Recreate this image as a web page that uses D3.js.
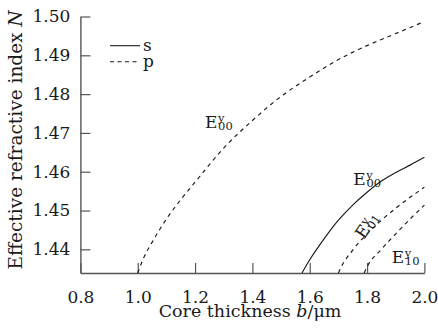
<!DOCTYPE html>
<html><head><meta charset="utf-8">
<script src="https://cdn.jsdelivr.net/npm/d3@7"></script>
<style>
html,body{margin:0;padding:0;background:#fff;}
svg{display:block;}
text{font-family:"DejaVu Serif",serif;fill:#1a1a1a;}
</style></head>
<body>
<script>
// ---- data ----
const xTicks = [0.8, 1.0, 1.2, 1.4, 1.6, 1.8, 2.0];
const yTicks = [1.44, 1.45, 1.46, 1.47, 1.48, 1.49, 1.50];

const pE00_x = [1.00, 1.02, 1.05, 1.10, 1.15, 1.20, 1.30, 1.40, 1.50, 1.60, 1.70, 1.80, 1.90, 2.00];
const pE00_y = [1.4339, 1.4377, 1.4418, 1.4478, 1.4528, 1.4573, 1.4661, 1.4732, 1.4794, 1.4844, 1.4889, 1.4925, 1.4956, 1.4987];

const sE00_x = [1.573, 1.60, 1.65, 1.70, 1.75, 1.80, 1.85, 1.90, 1.95, 2.00];
const sE00_y = [1.4339, 1.4373, 1.4427, 1.4475, 1.4514, 1.4547, 1.4576, 1.4598, 1.4617, 1.4637];

const pE01_x = [1.70, 1.71, 1.75, 1.80, 1.85, 1.90, 1.95, 2.00];
const pE01_y = [1.4339, 1.4355, 1.4398, 1.4440, 1.4475, 1.4506, 1.4534, 1.4560];

const pE10_x = [1.79, 1.80, 1.85, 1.90, 1.95, 2.00];
const pE10_y = [1.4339, 1.4355, 1.4400, 1.4440, 1.4478, 1.4514];

const legendLabels = ["s", "p"];
const modeLabels = [
  {sup: "y", sub: "00", x: 1.2346, y: 1.4713, rot: 0},
  {sup: "y", sub: "00", x: 1.752, y: 1.4566, rot: 0},
  {sup: "y", sub: "01", x: 1.789, y: 1.4424, rot: -56},
  {sup: "y", sub: "10", x: 1.886, y: 1.4364, rot: 0}
];

// ---- chart ----
const W = 438, H = 332;
const svg = d3.select("body").append("svg").attr("width", W).attr("height", H);

const x = d3.scaleLinear().domain([0.8, 2.0]).range([80.4, 424.4]);
const y = d3.scaleLinear().domain([1.4339, 1.50]).range([273, 16.5]);

const axisColor = "#555";
const FS = 17;

// x axis
const gx = svg.append("g").attr("transform", `translate(0,${y(1.4339)})`)
  .call(d3.axisBottom(x).tickValues(xTicks).tickFormat(d3.format(".1f")).tickSizeInner(-10).tickSizeOuter(0).tickPadding(18));
gx.select(".domain").attr("stroke", axisColor).attr("stroke-width", 1.4);
gx.selectAll(".tick line").attr("stroke", axisColor).attr("stroke-width", 1.2);
gx.selectAll(".tick text").attr("font-size", FS).attr("font-family", "DejaVu Serif").attr("fill", "#1a1a1a");

// y axis
const gy = svg.append("g").attr("transform", `translate(${x(0.8)},0)`)
  .call(d3.axisLeft(y).tickValues(yTicks).tickFormat(d3.format(".2f")).tickSizeInner(-10).tickSizeOuter(0).tickPadding(10));
gy.select(".domain").attr("stroke", axisColor).attr("stroke-width", 1.4);
gy.selectAll(".tick line").attr("stroke", axisColor).attr("stroke-width", 1.2);
gy.selectAll(".tick text").attr("font-size", FS).attr("font-family", "DejaVu Serif").attr("fill", "#1a1a1a");

// curves
const line = d3.line().x(d => x(d[0])).y(d => y(d[1])).curve(d3.curveMonotoneX);
const series = [
  {xs: pE00_x, ys: pE00_y, dash: "4,4"},
  {xs: sE00_x, ys: sE00_y, dash: null},
  {xs: pE01_x, ys: pE01_y, dash: "4,4"},
  {xs: pE10_x, ys: pE10_y, dash: "4,4"}
];
series.forEach(s => {
  svg.append("path").datum(d3.zip(s.xs, s.ys))
    .attr("d", line).attr("fill", "none").attr("stroke", "#1a1a1a")
    .attr("stroke-width", 1.15).attr("stroke-dasharray", s.dash);
});

// mode labels (single text element each: E with stacked super/subscript)
modeLabels.forEach(m => {
  const t = svg.append("text")
    .attr("transform", `translate(${x(m.x)},${y(m.y)}) rotate(${m.rot})`)
    .attr("font-size", FS);
  t.append("tspan").text("E");
  t.append("tspan").attr("font-size", 11.5).attr("dx", 0.5).attr("dy", -6).text(m.sup);
  t.append("tspan").attr("font-size", 11.5).attr("dx", -6.3).attr("dy", 8).text(m.sub);
});

// legend
const leg = svg.append("g");
legendLabels.forEach((lab, i) => {
  const ly = 45.7 + i * 16;
  leg.append("line").attr("x1", 110).attr("x2", 140).attr("y1", ly).attr("y2", ly)
    .attr("stroke", "#1a1a1a").attr("stroke-width", 1.1)
    .attr("stroke-dasharray", i === 0 ? null : "4,3.5");
  leg.append("text").attr("x", 143).attr("y", ly + 5).attr("font-size", FS).text(lab);
});

// axis titles
const xt = svg.append("text").attr("x", 250).attr("y", 317).attr("text-anchor", "middle").attr("font-size", 17.5);
xt.append("tspan").text("Core thickness ");
xt.append("tspan").attr("font-style", "italic").text("b");
xt.append("tspan").text("/μm");

const yt = svg.append("text").attr("transform", "translate(22,140) rotate(-90)").attr("text-anchor", "middle").attr("font-size", 18.5);
yt.append("tspan").text("Effective refractive index ");
yt.append("tspan").attr("font-style", "italic").text("N");
</script>
</body></html>
